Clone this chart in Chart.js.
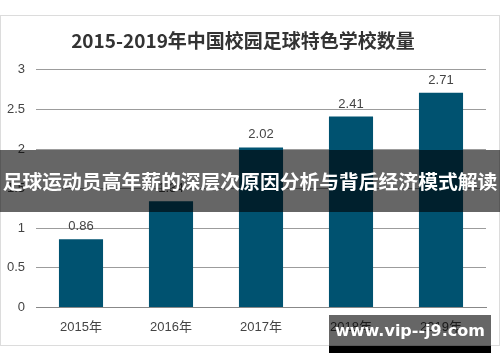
<!doctype html>
<html lang="zh">
<head>
  <meta charset="utf-8">
  <title>2015-2019年中国校园足球特色学校数量</title>
  <style>
    * { margin: 0; padding: 0; }
    body { width: 500px; height: 362px; background: #fff; position: relative; overflow: hidden; }
    .card { position: absolute; left: 0; top: 15px; width: 498px; height: 329px; border: 1px solid #dcdcdc; }
    .chartBox { position: absolute; left: 0; top: 0; width: 500px; height: 362px; }
    .banner {
      position: absolute; left: 0; top: 150px; width: 500px; height: 62px;
      background: rgba(0, 0, 0, 0.6); color: #fff;
      font: bold 19.8px "Noto Sans CJK SC", sans-serif; line-height: 62px;
      text-align: center; white-space: nowrap;
    }
    .mark {
      position: absolute; left: 329px; top: 315px; width: 162px; height: 31px;
      background: rgba(0, 0, 0, 0.6); color: #fff;
      font: bold 16px "DejaVu Sans", sans-serif; line-height: 31px; text-align: center;
    }
    .markBase { position: absolute; left: 329px; top: 346px; width: 162px; height: 7px; background: #000; }
  </style>
</head>
<body>
  <div class="card"></div>
  <div class="chartBox"><canvas id="myChart" width="500" height="362"></canvas></div>
  <div class="banner">足球运动员高年薪的深层次原因分析与背后经济模式解读</div>
  <div class="mark">www.vip--j9.com</div>
  <div class="markBase"></div>
  <script src="https://cdn.jsdelivr.net/npm/chart.js"></script>
  <script>
    // data
    const years = ['2015年', '2016年', '2017年', '2018年', '2019年'];
    const schools = [0.86, 1.34, 2.02, 2.41, 2.71];   // 万所
    const yTicks = [0, 0.5, 1, 1.5, 2, 2.5, 3];

    const barColor = '#005270';

    // value labels above the bars
    const valueLabels = {
      id: 'valueLabels',
      afterDatasetsDraw(chart) {
        const { ctx } = chart;
        const meta = chart.getDatasetMeta(0);
        ctx.save();
        ctx.font = '13px "Liberation Sans", Arial, sans-serif';
        ctx.fillStyle = '#444';
        ctx.textAlign = 'center';
        ctx.textBaseline = 'bottom';
        meta.data.forEach((bar, i) => {
          ctx.fillText(String(schools[i]), bar.x, bar.y - 6);
        });
        ctx.restore();
      }
    };

    const config = {
      type: 'bar',
      data: {
        labels: years,
        datasets: [{
          data: schools,
          backgroundColor: barColor,
          borderWidth: 0,
          categoryPercentage: 1,
          barPercentage: 0.49
        }]
      },
      options: {
        responsive: false,
        animation: false,
        layout: { padding: { left: 0, right: 14, top: 0, bottom: 15 } },
        plugins: {
          legend: { display: false },
          tooltip: { enabled: false },
          title: {
            display: true,
            text: '2015-2019年中国校园足球特色学校数量',
            color: '#333',
            font: { family: '"Noto Sans CJK SC", sans-serif', size: 19, weight: 'bold' },
            padding: { top: 29, bottom: 18 }
          }
        },
        scales: {
          x: {
            grid: { display: false, drawTicks: false },
            border: { display: true, color: '#888', width: 1 },
            ticks: {
              color: '#444',
              padding: 12,
              font: { family: '"Liberation Sans", "Noto Sans CJK SC", sans-serif', size: 13 }
            }
          },
          y: {
            min: 0,
            max: 3,
            afterFit(scale) { scale.width = 36; },
            afterBuildTicks(scale) { scale.ticks = yTicks.map(v => ({ value: v })); },
            grid: { color: '#9c9c9c', drawTicks: false, lineWidth: 1 },
            border: { display: false },
            ticks: {
              color: '#444',
              padding: 11,
              font: { family: '"Liberation Sans", Arial, sans-serif', size: 13 },
              callback: v => String(v)
            }
          }
        }
      },
      plugins: [valueLabels]
    };

    const myChart = new Chart(document.getElementById('myChart'), config);
  </script>
</body>
</html>
